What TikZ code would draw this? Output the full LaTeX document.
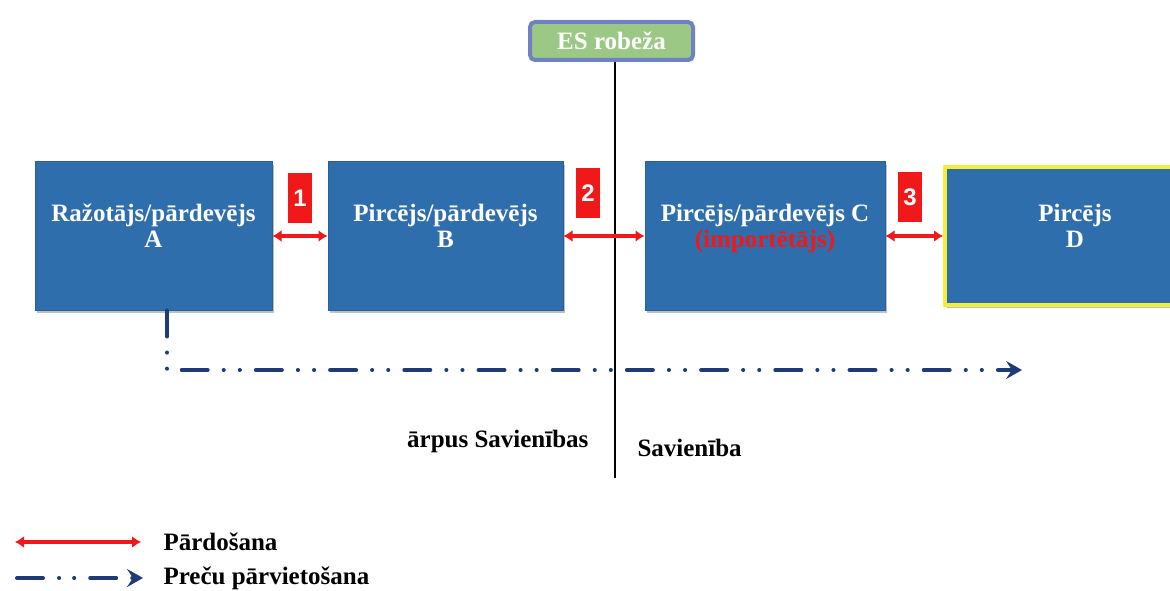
\documentclass[tikz,border=0pt]{standalone}
\usepackage{fontspec}
\setmainfont{Liberation Serif}
\newfontfamily\tagfont{Liberation Sans}
\usetikzlibrary{arrows.meta,shadows}

\definecolor{boxblue}{HTML}{2F6EAC}
\definecolor{boxedge}{HTML}{2A5F97}
\definecolor{esgreen}{HTML}{9CC886}
\definecolor{esedge}{HTML}{6E82C2}
\definecolor{salered}{HTML}{F01818}
\definecolor{flownavy}{HTML}{1F3A78}
\definecolor{dyellow}{HTML}{F2EE3A}

\begin{document}
\begin{tikzpicture}[x=1pt, y=-1pt,
  font=\fontsize{25}{26}\selectfont\bfseries,
  box/.style={fill=boxblue, draw=boxedge, line width=1pt, text=white, align=center,
    minimum height=148pt, inner sep=2pt, text depth=20pt,
    drop shadow={shadow xshift=2pt, shadow yshift=-3pt, opacity=0.25, fill=black}},
  tag/.style={fill=salered, text=white, font=\tagfont\fontsize{24}{24}\selectfont\bfseries,
    minimum width=24pt, minimum height=50pt, inner sep=0pt},
  sale/.style={salered, line width=3.5pt, {Latex[length=9pt,width=12pt]}-{Latex[length=9pt,width=12pt]}},
  flow/.style={flownavy, line width=4pt, line cap=round,
    dash pattern=on 26pt off 16pt on 0.1pt off 16pt on 0.1pt off 16pt,
    -{Stealth[length=16pt,width=18pt,inset=6pt,line cap=butt]}}]
  \useasboundingbox (0,0) rectangle (1170,591);
  \clip (0,0) rectangle (1170,591);

  % granica
  \node[fill=esgreen, draw=esedge, line width=4pt, rounded corners=5pt, text=white,
    minimum width=163pt, minimum height=38pt, inner sep=0pt,
    drop shadow={shadow xshift=1pt, shadow yshift=-2pt, opacity=0.25, fill=black}]
    (es) at (611.5,41) {ES robeža};
  \coordinate (bot) at (615,478);
  \draw[line width=2.5pt] (bot |- es.south) -- (bot);

  % dalībnieki
  \node[box, minimum width=237pt] (A) at (153.5,236) {Ražotājs/pārdevējs\\A};
  \node[box, minimum width=235pt] (B) at (445.5,236) {Pircējs/pārdevējs\\B};
  \node[box, minimum width=240pt] (C) at (765,236) {Pircējs/pārdevējs C\\{\color{salered}(importētājs)}};
  \node[box, draw=dyellow, line width=4pt, minimum width=260pt, minimum height=138pt]
    (D) at (1075,236) {Pircējs\\D};

  % pārdošana
  \draw[sale] (A.east) -- (B.west);
  \draw[sale] (B.east) -- (C.west);
  \draw[sale] (C.east) -- (D.west);
  \node[tag] (t1) at (300,198) {1};
  \node[tag] (t2) at (588,193) {2};
  \node[tag] (t3) at (910,197) {3};

  % preču plūsma
  \coordinate (fend) at (1022,370);
  \draw[flow] (A.south -| 167,0) -- (167,370) -- (fend);

  \node[anchor=east] (out) at (592,441) {ārpus Savienības};
  \node[anchor=west] (in) at (634,448) {Savienība};

  % leģenda
  \coordinate (l1a) at (15,542);
  \coordinate (l1b) at (141,542);
  \draw[sale] (l1a) -- (l1b);
  \node[anchor=west] (lsale) at (160,542) {Pārdošana};
  \coordinate (l2a) at (17,578);
  \coordinate (l2b) at (143,578);
  \draw[flow, dash pattern=on 26pt off 16pt on 0.1pt off 15pt on 0.1pt off 16pt] (l2a) -- (l2b);
  \node[anchor=west] (lflow) at (160,578) {Preču pārvietošana};
\end{tikzpicture}
\end{document}
